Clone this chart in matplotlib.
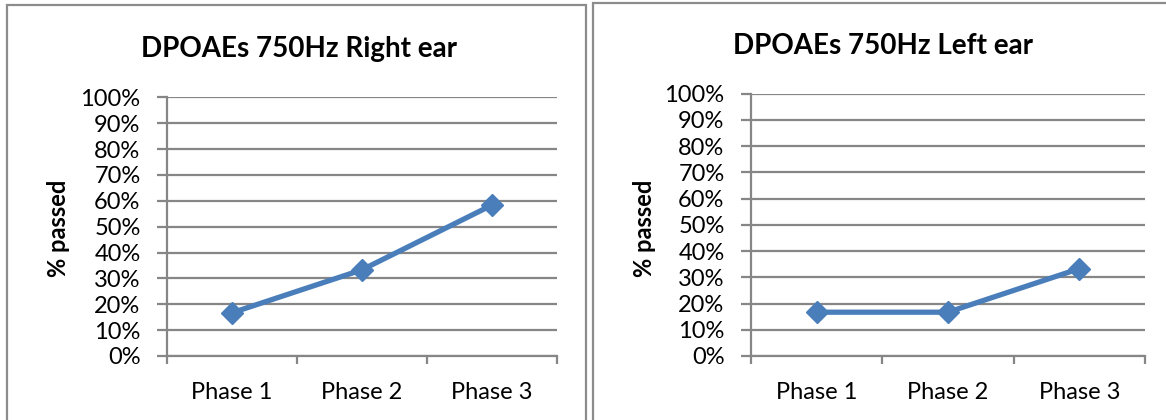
import matplotlib
matplotlib.use("Agg")
import matplotlib.pyplot as plt
from matplotlib.patches import Rectangle
from matplotlib.ticker import FixedLocator, PercentFormatter

categories = ["Phase 1", "Phase 2", "Phase 3"]
right_ear = [16.7, 33.3, 58.3]
left_ear = [16.7, 16.7, 33.3]
titles = ["DPOAEs 750Hz Right ear", "DPOAEs 750Hz Left ear"]
y_ticks = list(range(0, 101, 10))

W, H = 1166, 420
fig = plt.figure(figsize=(W / 100, H / 100), dpi=100)
fig.patch.set_facecolor("white")

FONT = ["Lato", "DejaVu Sans"]
GRID = "#868686"
LINE = "#4A7EBB"

def px_axes(x0, x1, y0, y1):
    return fig.add_axes([x0 / W, 1 - y1 / H, (x1 - x0) / W, (y1 - y0) / H])

# panel borders
for (bx0, bx1, by0) in [(7, 586, 5), (593, 1172, 3)]:
    fig.add_artist(Rectangle((bx0 / W, -0.05), (bx1 - bx0) / W, 1 - by0 / H + 0.05,
                             transform=fig.transFigure, fill=False,
                             edgecolor="#8c8c8c", linewidth=1.6))

panels = [
    dict(data=right_ear, ax=(167, 556.7, 97.3, 356), title_x=299, title_y=56.7, ylabel_x=59),
    dict(data=left_ear, ax=(751, 1145, 93.7, 356), title_x=883, title_y=54.5, ylabel_x=645),
]

for p, title in zip(panels, titles):
    x0, x1, y0, y1 = p["ax"]
    ax = px_axes(x0, x1, y0, y1)
    xs = list(range(len(categories)))
    ax.plot(xs, p["data"], color=LINE, linewidth=3.8, marker="D", markersize=11.5,
            markeredgecolor=LINE, solid_joinstyle="round", zorder=3, clip_on=False)
    ax.set_xlim(-0.5, len(categories) - 0.5)
    ax.set_ylim(0, 100)
    ax.yaxis.set_major_locator(FixedLocator(y_ticks))
    ax.yaxis.set_major_formatter(PercentFormatter(decimals=0))
    ax.grid(axis="y", color=GRID, linewidth=1.6)
    ax.set_axisbelow(True)
    ax.xaxis.set_major_locator(FixedLocator(xs))
    ax.set_xticks([x - 0.5 for x in range(len(categories) + 1)], minor=True)
    ax.set_xticklabels(categories)
    ax.tick_params(axis="x", which="major", length=0, pad=19, labelsize=17)
    ax.tick_params(axis="x", which="minor", length=5.5, width=1.6, color=GRID)
    ax.tick_params(axis="y", length=7.5, width=1.6, color=GRID, labelsize=17, pad=11.5)
    for lab in ax.get_xticklabels() + ax.get_yticklabels():
        lab.set_family(FONT)
    for s in ["top", "right"]:
        ax.spines[s].set_visible(False)
    for s in ["left", "bottom"]:
        ax.spines[s].set_color(GRID)
        ax.spines[s].set_linewidth(1.6)
    fig.text(p["title_x"] / W, 1 - p["title_y"] / H, title, ha="center", va="baseline",
             fontsize=20, fontweight="bold", family=FONT)
    fig.text(p["ylabel_x"] / W, 1 - 228 / H, "% passed", ha="center", va="center",
             rotation=90, fontsize=17, fontweight="bold", family=FONT)

fig.savefig("out.png", dpi=100)
